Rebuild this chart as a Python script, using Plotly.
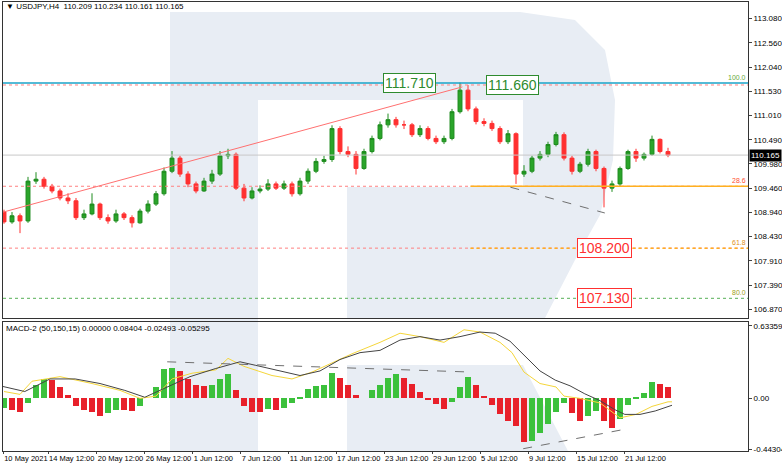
import plotly.graph_objects as go

W, H = 782, 466

# price bars (4H, sampled), index = bar number
closes = [108.74, 108.87, 108.76, 109.61, 109.65, 109.50, 109.40, 109.25, 109.19, 108.83,
          108.91, 109.12, 108.83, 108.76, 108.91, 108.83, 108.72, 108.97, 109.12, 109.34,
          109.82, 110.10, 109.76, 109.55, 109.40, 109.61, 109.76, 110.15, 110.18, 109.46,
          109.25, 109.40, 109.44, 109.55, 109.46, 109.55, 109.34, 109.61, 109.82, 110.03,
          110.07, 110.73, 110.24, 110.18, 109.88, 110.24, 110.52, 110.81, 110.92, 110.81,
          110.81, 110.60, 110.73, 110.52, 110.45, 110.52, 111.09, 111.55, 111.15, 110.88,
          110.84, 110.73, 110.45, 110.62, 109.76, 109.82, 110.10, 110.18, 110.39, 110.60,
          110.10, 109.82, 109.97, 110.24, 109.88, 109.46, 109.55, 109.88, 110.24, 110.10,
          110.18, 110.50, 110.24, 110.165]
first_open = 108.95
highs = [109.00, 108.95, 108.92, 109.70, 109.80, 109.70, 109.55, 109.45, 109.35, 109.25,
         109.00, 109.35, 109.15, 108.90, 109.00, 108.95, 108.88, 109.02, 109.20, 109.40,
         109.90, 110.25, 110.15, 109.82, 109.60, 109.68, 109.85, 110.25, 110.30, 110.22,
         109.55, 109.48, 109.52, 109.65, 109.60, 109.62, 109.60, 109.68, 109.88, 110.10,
         110.15, 110.80, 110.78, 110.35, 110.25, 110.30, 110.58, 110.88, 111.05, 110.98,
         110.90, 110.85, 110.80, 110.78, 110.58, 110.58, 111.15, 111.71, 111.66, 111.20,
         110.95, 110.90, 110.78, 110.70, 110.65, 109.95, 110.15, 110.25, 110.45, 110.66,
         110.65, 110.15, 110.02, 110.30, 110.28, 109.92, 109.62, 109.92, 110.28, 110.30,
         110.22, 110.58, 110.52, 110.32]
lows = [108.70, 108.70, 108.50, 108.72, 109.55, 109.45, 109.35, 109.20, 109.12, 108.78,
        108.78, 108.88, 108.78, 108.70, 108.72, 108.78, 108.62, 108.70, 108.92, 109.08,
        109.30, 109.78, 109.70, 109.48, 109.35, 109.38, 109.55, 109.72, 110.08, 109.42,
        109.18, 109.22, 109.35, 109.40, 109.42, 109.42, 109.28, 109.30, 109.55, 109.78,
        109.98, 110.02, 110.18, 110.12, 109.75, 109.85, 110.20, 110.48, 110.75, 110.75,
        110.72, 110.55, 110.55, 110.48, 110.40, 110.40, 110.48, 111.05, 111.10, 110.82,
        110.78, 110.68, 110.40, 110.40, 109.55, 109.70, 109.78, 110.05, 110.12, 110.35,
        110.05, 109.75, 109.78, 109.92, 109.82, 109.05, 109.38, 109.50, 109.85, 110.02,
        110.05, 110.15, 110.20, 110.12]

macd_hist = [-0.08, -0.10, -0.12, -0.04, 0.12, 0.17, 0.16, 0.10, 0.03, -0.07,
             -0.10, -0.12, -0.15, -0.13, -0.10, -0.10, -0.11, -0.07, 0.00, 0.10,
             0.26, 0.27, 0.24, 0.17, 0.12, 0.11, 0.12, 0.17, 0.21, 0.07,
             -0.07, -0.12, -0.12, -0.09, -0.10, -0.08, -0.04, 0.01, 0.08, 0.11,
             0.12, 0.22, 0.18, 0.12, 0.03, 0.00, 0.07, 0.12, 0.18, 0.21,
             0.18, 0.13, 0.06, -0.01, -0.05, -0.09, -0.03, 0.10, 0.19, 0.12,
             0.02, -0.06, -0.14, -0.20, -0.24, -0.38, -0.37, -0.30, -0.22, -0.12,
             -0.04, -0.13, -0.20, -0.15, -0.11, -0.20, -0.26, -0.18, -0.06, 0.01,
             0.05, 0.14, 0.13, 0.10]

main_t = [-0.5, 2.6, 5.75, 8.9, 12, 15.1, 17.6, 20.1, 23.25, 26.4, 29.5, 31.4, 34.5, 37,
          39.5, 42, 44.5, 47, 49.5, 52, 54.5, 57, 59.5, 61.4, 63.25, 65.1, 67, 68.9,
          70.75, 72.6, 74.5, 76.4, 77.6, 79.5, 81.4, 83.5]
main_line = [0.11, 0.06, 0.17, 0.17, 0.13, 0.07, 0.01, 0.09, 0.19, 0.26, 0.32, 0.29, 0.24,
             0.20, 0.24, 0.34, 0.40, 0.42, 0.51, 0.54, 0.51, 0.54, 0.58, 0.57, 0.50, 0.37,
             0.24, 0.16, 0.11, 0.04, -0.02, -0.10, -0.14, -0.14, -0.11, -0.06]
signal_t = [0, 2, 3.5, 7, 11, 14.5, 17, 19, 21, 23.5, 26.5, 28, 30, 33.5, 36, 38.5, 41, 43.5,
            47, 49.5, 52, 55, 57.5, 59.5, 62, 63.5, 65, 67, 69, 70, 72, 74.5, 77, 79, 81, 83, 83.5]
signal_line = [0.06, 0.035, 0.15, 0.19, 0.13, 0.07, 0.0, 0.02, 0.17, 0.22, 0.25, 0.35, 0.28,
               0.20, 0.17, 0.23, 0.31, 0.39, 0.49, 0.57, 0.54, 0.49, 0.60, 0.58, 0.49, 0.40,
               0.23, 0.13, 0.10, 0.02, 0.0, -0.04, -0.17, -0.14, -0.07, -0.03, -0.03]

tick_bars = [-0.1, 5.5, 11.6, 17.6, 23.6, 29.6, 35.6, 41.5, 47.5, 53.5, 59.5, 65.5, 71.5, 77.5]
tick_text = ["10 May 2021", "14 May 12:00", "20 May 12:00", "26 May 12:00", "1 Jun 12:00",
             "7 Jun 12:00", "11 Jun 12:00", "17 Jun 12:00", "23 Jun 12:00", "29 Jun 12:00",
             "5 Jul 12:00", "9 Jul 12:00", "15 Jul 12:00", "21 Jul 12:00"]
price_ticks = [106.870, 107.390, 107.910, 108.430, 108.940, 109.460, 109.980, 110.490,
               111.010, 111.530, 112.040, 112.560, 113.080]

level_100 = 111.70
level_286 = 109.50
level_618 = 108.18
level_800 = 107.11
last_price = 110.165

bars = list(range(len(closes)))
opens = [first_open] + closes[:-1]
hist_colors = ["#3cc13c" if i == 0 or v > macd_hist[i - 1] else "#e8202a"
               for i, v in enumerate(macd_hist)]

FONT = "Liberation Sans"
fig = go.Figure()

fig.add_trace(go.Candlestick(
    x=bars, open=opens, high=highs, low=lows, close=closes,
    increasing=dict(line=dict(color="#1e8c1e", width=1), fillcolor="#2aa52a"),
    decreasing=dict(line=dict(color="#ff3030", width=1), fillcolor="#ff3030"),
    whiskerwidth=0, xaxis="x", yaxis="y", showlegend=False, hoverinfo="skip"))

fig.add_trace(go.Bar(x=bars, y=macd_hist, marker_color=hist_colors, marker_line_width=0,
                     width=0.8, xaxis="x2", yaxis="y2", showlegend=False))
fig.add_trace(go.Scatter(x=signal_t, y=signal_line, mode="lines",
                         line=dict(color="#f5d63a", width=1), xaxis="x2", yaxis="y2",
                         showlegend=False))
fig.add_trace(go.Scatter(x=main_t, y=main_line, mode="lines",
                         line=dict(color="#444444", width=1), xaxis="x2", yaxis="y2",
                         showlegend=False))

# px -> paper helpers
def dx(p):
    return p / W

def dy(p):
    return 1 - p / H

def pth(points):
    return "M" + " L".join(f"{dx(x):.5f},{dy(y):.5f}" for x, y in points) + " Z"

xr = [-0.125, 93.0]
fig.update_layout(
    width=W, height=H, margin=dict(l=0, r=0, t=0, b=0, autoexpand=False),
    paper_bgcolor="white", plot_bgcolor="rgba(0,0,0,0)",
    font=dict(family=FONT, size=8, color="#000"),
    xaxis=dict(domain=[dx(3), dx(748)], range=xr, showticklabels=False, showgrid=False,
               zeroline=False, rangeslider=dict(visible=False), showline=True,
               linecolor="#333", mirror=True, anchor="y", automargin=False),
    yaxis=dict(domain=[dy(318), dy(2)], range=[106.69, 113.43], side="right",
               tickvals=price_ticks, ticktext=[f"{v:.3f}" for v in price_ticks],
               ticks="outside", ticklen=3, showgrid=False, zeroline=False, automargin=False,
               showline=True, linecolor="#333", mirror=True, anchor="x"),
    xaxis2=dict(domain=[dx(3), dx(748)], range=xr, tickvals=tick_bars, ticktext=tick_text,
                ticks="outside", ticklen=2, showgrid=False, zeroline=False, tickangle=0,
                ticklabelposition="outside right", tickfont=dict(size=7.5),
                automargin=False, showline=True, linecolor="#333", mirror=True, anchor="y2"),
    yaxis2=dict(domain=[dy(451), dy(322)], range=[-0.46, 0.668], side="right",
                tickvals=[-0.44304, 0.0, 0.63359], ticktext=["-0.44304", "0.00", "0.63359"],
                ticks="outside", ticklen=3, showgrid=False, zeroline=False, automargin=False,
                showline=True, linecolor="#333", mirror=True, anchor="x2"),
    bargap=0,
)

# watermark logo in paper coordinates, drawn under everything
wm = "#e8edf4"
bowl = [(258, 12), (520, 12), (575, 20), (605, 50), (615, 100), (613, 160), (600, 215),
        (575, 260), (545, 318), (347, 318), (347, 187), (523, 187), (523, 100), (258, 100)]
shapes = [
    dict(type="path", xref="paper", yref="paper", layer="below", fillcolor=wm, line_width=0,
         path=pth([(170, 12), (258, 12), (258, 451), (170, 451)])),
    dict(type="path", xref="paper", yref="paper", layer="below", fillcolor=wm, line_width=0,
         path=pth(bowl)),
    dict(type="path", xref="paper", yref="paper", layer="below", fillcolor=wm, line_width=0,
         path=pth([(347, 365), (523, 365), (568, 451), (347, 451)])),
]
end = xr[1]
def hline(y, x0, color, dash, width=1):
    return dict(type="line", xref="x", yref="y", x0=x0, x1=end, y0=y, y1=y,
                line=dict(color=color, dash=dash, width=width))
shapes += [
    hline(last_price, xr[0], "#c8c8c8", "solid"),
    hline(level_100, xr[0], "#1aa3c9", "solid", 1.5),
    hline(level_100 - 0.04, xr[0], "#ff8080", "dot"),
    hline(level_286, xr[0], "#ff8080", "dot"),
    hline(level_286, 58.3, "#ffb020", "solid", 1.5),
    hline(level_618, xr[0], "#ff8080", "dot"),
    hline(level_618, 58.3, "#ffb020", "dot", 1.5),
    hline(level_800, xr[0], "#55b055", "dot"),
    dict(type="line", xref="x", yref="y", x0=-0.5, x1=57.3, y0=108.93, y1=111.62,
         line=dict(color="#ff7070", width=1)),
    dict(type="line", xref="x", yref="y", x0=63.3, x1=75.1, y0=109.48, y1=108.93,
         line=dict(color="#707070", width=1, dash="dash")),
    dict(type="line", xref="x2", yref="y2", x0=20.4, x1=58.5, y0=0.32, y1=0.23,
         line=dict(color="#707070", width=1, dash="dash")),
    dict(type="line", xref="x2", yref="y2", x0=64.9, x1=77.6, y0=-0.44, y1=-0.27,
         line=dict(color="#707070", width=1, dash="dash")),
]
fig.update_layout(shapes=shapes)

ann = [
    dict(x=dx(4), y=dy(6), xref="paper", yref="paper", xanchor="left", yanchor="middle",
         text="▼ USDJPY,H4  110.209 110.234 110.161 110.165", showarrow=False),
    dict(x=dx(4), y=dy(328), xref="paper", yref="paper", xanchor="left", yanchor="middle",
         text="MACD-2 (50,150,15) 0.00000 0.08404 -0.02493 -0.05295", showarrow=False),
    dict(x=end, y=last_price, xref="x", yref="y", xanchor="left", xshift=1,
         text="110.165", showarrow=False, bgcolor="black", font=dict(color="white", size=8)),
]
for txt, xb, y, col in [("111.710", 50.7, 111.70, "#2e8b2e"), ("111.660", 63.6, 111.66, "#2e8b2e"),
                        ("108.200", 75.1, level_618, "#ff3030"), ("107.130", 75.1, level_800, "#ff3030")]:
    ann.append(dict(x=xb, y=y, xref="x", yref="y", text=txt, showarrow=False,
                    font=dict(size=14, color=col), bgcolor="white", bordercolor=col,
                    borderwidth=1, borderpad=1))
for txt, y, col in [("100.0", level_100, "#6aaa3a"), ("28.6", level_286, "#ff5030"),
                    ("61.8", level_618, "#e09020"), ("80.0", level_800, "#a0a020")]:
    ann.append(dict(x=end, y=y, xref="x", yref="y", xanchor="right", yanchor="bottom",
                    text=txt, showarrow=False, font=dict(size=7, color=col)))
fig.update_layout(annotations=ann)

fig.write_html("out.html", config={"displayModeBar": False})

# drop the browser's default page margin so the figure sits at the window origin
with open("out.html", encoding="utf-8") as f:
    page = f.read()
page = page.replace("<body>", '<body style="margin:0">', 1)
with open("out.html", "w", encoding="utf-8") as f:
    f.write(page)
